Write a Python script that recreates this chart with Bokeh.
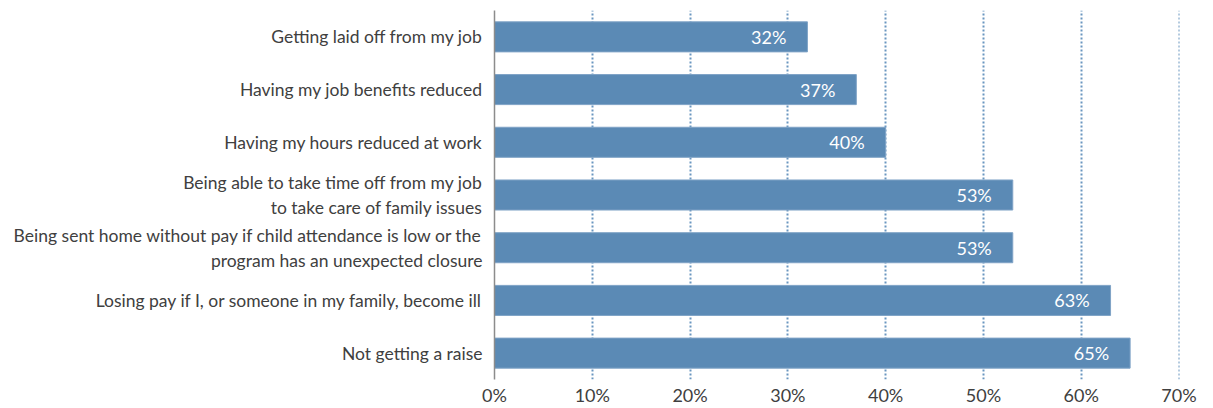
from bokeh.plotting import figure
from bokeh.models import ColumnDataSource, FixedTicker, LabelSet, Range1d, FactorRange
from bokeh.core.properties import value
from bokeh.embed import file_html
from bokeh.resources import INLINE

categories = [
    "Not getting a raise",
    "Losing pay if I, or someone in my family, become ill",
    "Being sent home without pay if child attendance is low or the\nprogram has an unexpected closure",
    "Being able to take time off from my job\nto take care of family issues",
    "Having my hours reduced at work",
    "Having my job benefits reduced",
    "Getting laid off from my job",
]
values = [65, 63, 53, 53, 40, 37, 32]
value_labels = ["65%", "63%", "53%", "53%", "40%", "37%", "32%"]
x_ticks = [0, 10, 20, 30, 40, 50, 60, 70]
x_tick_labels = ["0%", "10%", "20%", "30%", "40%", "50%", "60%", "70%"]

FONT = "Lato"

src = ColumnDataSource(dict(cat=categories, val=values, lab=value_labels))

p = figure(frame_width=685, frame_height=369, output_backend="svg", toolbar_location=None,
           y_range=FactorRange(*categories, range_padding=0), x_range=Range1d(0, 70.05),
           min_border_left=494, min_border_right=20, min_border_top=10, min_border_bottom=10)
p.outline_line_color = None
p.background_fill_color = "white"

p.hbar(y="cat", right="val", left=0, height=0.57, source=src,
       fill_color="#5B8AB5", line_color="#7FA3C6", line_width=1)

labels = LabelSet(x="val", y="cat", text="lab", source=src, text_align="right",
                  text_baseline="middle", x_offset=-21, y_offset=0,
                  text_color="white", text_font=value(FONT), text_font_size="18px")
p.add_layout(labels)

p.xaxis.ticker = FixedTicker(ticks=x_ticks)
p.xaxis.major_label_overrides = {t: l for t, l in zip(x_ticks, x_tick_labels)}
p.xaxis.axis_line_color = None
p.xaxis.major_tick_line_color = None
p.xaxis.minor_tick_line_color = None
p.xaxis.major_tick_in = 0
p.xaxis.major_tick_out = 0
p.xaxis.major_label_standoff = 4
p.xaxis.major_label_text_font = FONT
p.xaxis.major_label_text_font_size = "18px"
p.xaxis.major_label_text_color = "#404040"

p.yaxis.axis_line_color = "#8C8C8C"
p.yaxis.axis_line_width = 1.5
p.yaxis.major_tick_line_color = None
p.yaxis.minor_tick_line_color = None
p.yaxis.major_tick_in = 0
p.yaxis.major_tick_out = 0
p.yaxis.major_label_standoff = 12
p.yaxis.major_label_text_font = FONT
p.yaxis.major_label_text_font_size = "17.5px"
p.yaxis.major_label_text_color = "#404040"

p.ygrid.grid_line_color = None
p.xgrid.ticker = FixedTicker(ticks=x_ticks[1:])
p.xgrid.grid_line_color = "#6A96C0"
p.xgrid.grid_line_width = 2
p.xgrid.grid_line_dash = "2 2"

open("out.html", "w").write(file_html(p, INLINE))
